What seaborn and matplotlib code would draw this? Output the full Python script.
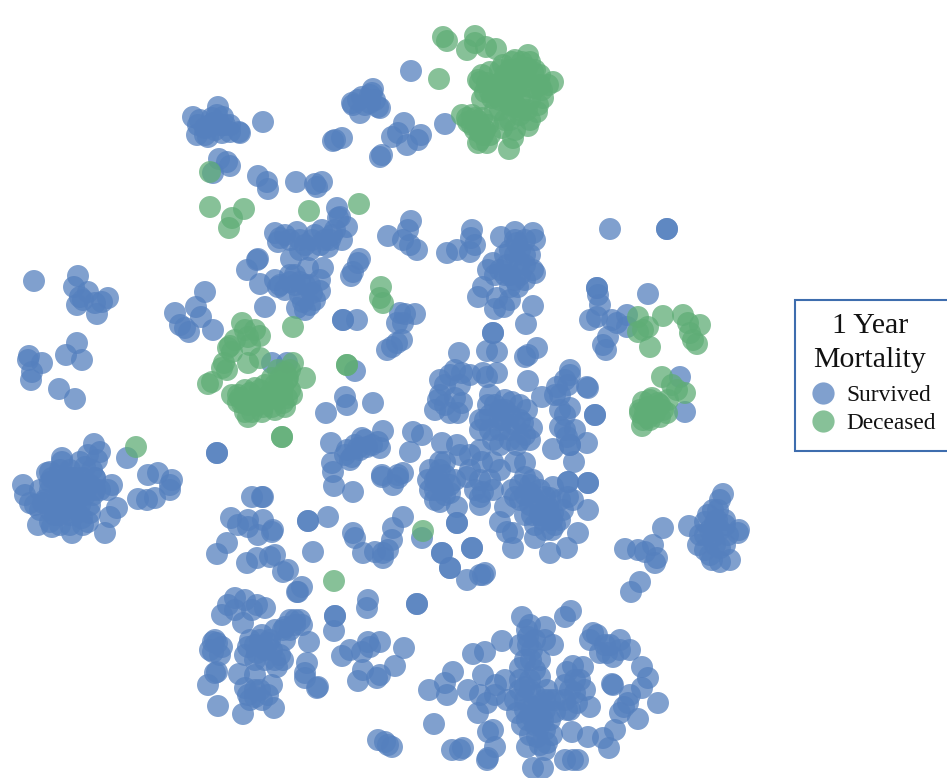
#t-SNE style scatter of patients, coloured by 1 year mortality
import seaborn as sns
import matplotlib.pyplot as plt
import pandas as pd
from matplotlib.lines import Line2D
from matplotlib.patches import Rectangle

BLUE = "#5580BE"
GREEN = "#5FAD76"

survived_points = [
    (193,117),(218,107),(198,125),(223,117),(197,135),(208,137),(222,133),(239,132),(213,123),(230,132),(263,122),(217,115),(205,128),(240,133),
    (210,125),(215,130),(205,135),(225,125),(200,120),(212,118),(220,125),(230,125),
    (352,103),(373,89),(362,97),(360,113),(378,107),(370,103),(372,93),(380,108),(353,105),(365,105),(370,95),(358,100),(375,100),
    (335,140),(342,138),(333,141),(411,71),(404,123),(392,137),(398,133),(421,135),(418,140),(407,145),(380,157),(382,155),(445,124),
    (219,159),(227,162),(230,166),(213,173),(258,176),(267,182),(268,189),(296,182),(315,184),(322,182),(317,187),
    (34,281),(78,276),(74,287),(88,292),(77,305),(97,314),(108,298),(102,302),(83,300),(95,303),(80,297),
    (205,292),(196,307),(175,313),(180,325),(189,332),(201,317),(213,330),(185,328),
    (77,343),(66,355),(82,360),(29,356),(42,363),(32,372),(31,380),(28,360),(59,389),(75,399),
    (217,453),(217,453),(127,458),(272,363),(287,363),(355,371),(343,320),(343,320),(357,320),(388,236),
    (275,233),(285,235),(278,242),(297,232),(312,240),(322,230),(332,235),(338,218),(340,217),(342,240),(328,247),(300,250),(291,259),
    (258,259),(257,260),(247,270),(260,284),(275,280),(278,287),(290,282),(308,268),(323,268),(300,282),(320,291),(312,293),(297,308),(310,305),(303,302),(265,307),
    (280,238),(290,240),(305,245),(315,235),(325,240),(335,230),(330,240),(320,245),(300,240),(310,250),(280,285),(295,275),(305,285),(285,290),(300,295),(310,285),(320,280),(315,300),(305,310),(295,285),(290,275),
    (360,259),(351,276),(358,263),(353,272),(347,227),(337,208),(400,313),(397,323),(387,350),(397,343),(392,347),
    (345,397),(347,405),(326,413),(373,403),(331,443),(332,463),(383,431),(362,438),(358,448),(352,457),(367,447),(378,442),(380,448),(347,450),(382,475),(398,478),
    (345,455),(355,445),(365,440),(372,445),(350,460),(360,450),
    (23,485),(25,495),(30,503),(50,482),(67,478),(83,478),(72,490),(70,500),(57,503),(43,503),(50,522),(38,525),(52,527),(72,533),(83,525),(77,513),(90,513),(105,533),
    (110,517),(117,508),(108,490),(112,485),(93,495),(63,510),(138,499),(147,500),(155,498),(148,475),(158,473),(170,485),(172,480),(170,490),
    (94,444),(97,460),(62,458),(80,462),(47,473),(85,467),(52,478),(60,495),(75,505),(85,495),(60,480),(70,470),(95,478),
    (40,490),(50,490),(60,490),(70,485),(80,490),(90,485),(100,490),(60,500),(50,510),(40,510),(35,505),(60,515),(70,515),(80,505),(90,505),(70,525),(60,525),(55,515),
    (95,478),(85,485),(75,478),(68,495),(78,495),(45,500),(70,508),(82,518),(88,522),(92,470),(88,455),(100,452),(60,470),(72,478),(62,462),(95,490),(50,472),
    (252,497),(262,497),(263,497),(231,518),(248,527),(238,525),(263,520),(248,520),(272,532),(273,530),(258,535),(227,543),(217,554),(247,563),(257,558),(270,557),(275,555),
    (283,572),(288,570),(298,592),(302,587),(297,592),(308,521),(308,521),(328,517),(313,552),(334,486),(353,492),(333,472),
    (353,533),(355,538),(363,553),(375,552),(383,558),(388,550),(392,540),(393,528),(403,517),(383,553),(382,477),(393,485),(398,475),
    (235,598),(228,605),(222,615),(257,605),(265,608),(252,610),(243,623),(295,620),(302,625),(285,627),(283,630),(290,620),(300,620),(245,600),(235,610),
    (213,642),(222,647),(213,652),(217,643),(248,647),(268,643),(257,653),(280,655),(283,660),(277,667),(307,663),(305,673),(309,642),(217,672),(215,673),(208,685),
    (239,674),(255,675),(272,685),(317,688),(318,687),(305,678),(248,695),(262,700),(255,697),(274,708),(218,706),(243,714),
    (250,640),(260,640),(265,650),(272,650),(255,645),(245,655),(255,660),(265,660),(275,660),(262,635),(270,640),(285,640),(295,625),(290,630),(275,630),(255,690),(245,688),(260,690),(268,695),(250,700),(215,640),(220,655),(210,650),
    (368,600),(367,608),(335,616),(335,616),(334,631),(417,604),(417,604),(342,656),(350,650),(362,652),(368,642),(380,642),(370,647),(404,648),(395,666),(363,670),(358,681),(377,678),(380,675),
    (378,740),(385,742),(392,747),(388,745),
    (723,494),(720,500),(713,510),(689,526),(705,522),(717,520),(698,545),(700,535),(713,537),(739,530),(738,533),(728,535),(712,560),(720,562),(730,560),(720,548),(715,523),
    (710,530),(720,530),(705,535),(715,545),(725,545),(708,515),(718,510),(725,520),(705,550),(725,525),(710,555),
    (663,528),(625,549),(638,550),(645,552),(653,545),(657,558),(655,563),(640,582),(631,592),
    (422,538),(457,523),(457,523),(442,553),(442,553),(472,548),(472,548),(450,568),(450,568),(467,580),(480,575),(485,573),(483,575),
    (571,611),(565,617),(522,617),(527,630),(545,627),(528,637),(553,645),(502,641),(473,654),(485,652),(532,650),(453,672),(445,683),(429,690),(447,695),(468,690),(483,675),(496,685),
    (520,668),(531,660),(540,677),(525,687),(547,690),(487,703),(478,713),(507,700),(525,710),(540,707),(555,712),(570,710),(567,672),(573,666),(583,667),(593,633),(597,635),(607,653),
    (620,640),(630,650),(613,657),(600,653),(612,684),(613,685),(642,667),(648,678),(642,688),(658,703),(624,707),(620,713),(638,719),(615,730),(603,738),(609,748),(588,737),(572,732),
    (575,693),(585,690),(590,707),(577,703),(567,710),(488,732),(493,730),(495,747),(487,760),(488,758),(434,724),(452,750),(463,748),(460,750),(522,725),(527,720),(537,737),(547,743),
    (552,735),(527,747),(545,750),(533,768),(543,768),(565,760),(578,760),(573,760),(533,707),(517,713),(543,720),
    (530,690),(535,695),(545,700),(525,700),(530,715),(540,715),(550,700),(545,710),(520,690),(515,700),(535,725),(545,730),(530,735),(540,725),(555,700),(565,700),(575,680),(570,690),
    (580,680),(565,685),(520,680),(530,680),(540,660),(535,670),(525,660),(520,645),(535,640),(545,640),(530,625),(528,645),(590,640),(610,645),(605,645),(620,650),(540,745),(550,720),
    (505,680),(495,695),(480,695),(630,695),(628,703),
    (411,221),(408,230),(403,240),(410,245),(417,250),(447,253),(457,250),(472,230),(471,238),(475,245),(470,252),(501,237),(515,232),(533,233),(535,240),(517,243),(493,263),(507,265),(520,263),(533,270),(535,273),
    (510,250),(520,250),(525,255),(515,255),(505,255),(510,275),(520,275),(525,280),(505,275),(500,270),(515,240),(525,240),(525,265),(515,280),(495,275),(488,270),(530,255),(510,300),(497,298),
    (510,287),(518,287),(483,287),(478,297),(495,309),(504,307),(533,306),(526,324),(405,314),(415,314),(403,323),(402,340),(493,333),(493,333),(459,353),(487,351),(497,352),(525,357),(528,355),(537,348),
    (455,370),(462,373),(440,380),(483,373),(487,377),(497,373),(528,381),(542,397),(557,387),(570,370),(568,385),(587,387),(588,388),(570,408),(595,415),(595,415),(560,427),(570,445),(570,445),(567,437),(587,443),(553,449),(574,462),
    (588,483),(588,483),(568,482),(568,482),(553,487),(438,400),(455,398),(462,403),(450,413),(458,413),(488,405),(500,410),(512,402),(527,410),(480,430),(493,440),(517,445),(532,428),(523,423),(503,420),
    (457,445),(442,443),(410,452),(422,435),(413,432),(440,462),(437,477),(482,462),(493,462),(467,477),(525,463),(515,462),(533,480),(525,477),(442,487),(450,493),(403,473),(493,490),(512,490),(483,492),(530,493),(550,498),(568,497),
    (443,490),(440,502),(457,507),(480,497),(480,505),(505,507),(500,522),(507,532),(513,533),(513,548),(535,538),(552,530),(552,520),(550,553),(567,548),(578,533),(588,510),(573,500),(532,515),(548,507),(553,513),(533,497),(563,510),(543,520),
    (490,415),(500,420),(510,415),(520,420),(485,420),(495,405),(505,410),(515,425),(525,435),(500,430),(490,430),(510,430),(500,445),(480,420),(520,440),(530,440),(510,440),(520,405),(490,395),(505,400),
    (435,480),(445,475),(435,490),(450,485),(445,495),(440,470),(430,470),(445,462),(455,480),(440,485),(480,480),(475,490),(490,480),(500,470),(470,470),(460,455),(470,455),(480,450),
    (520,485),(530,485),(540,490),(520,500),(530,505),(540,505),(525,515),(535,525),(545,530),(555,525),(540,515),(550,515),(560,520),(525,495),(545,497),(560,500),(515,497),
    (560,395),(565,380),(570,375),(555,395),(565,415),(560,410),(575,430),(565,430),
    (440,395),(445,385),(435,410),(445,405),(460,385),(470,375),(450,375),(430,490),(428,480),(435,500),
    (597,288),(597,288),(598,295),(600,305),(590,320),(597,317),(612,320),(627,315),(617,323),(627,327),(608,337),(603,345),(606,350),(648,294),(610,229),(667,229),(667,229),(680,377),(685,412),
]

deceased_points = [
    (443,37),(447,41),(475,36),(467,50),(475,43),(486,47),(496,49),(439,79),(528,55),(515,60),(503,65),(535,70),(553,82),(542,90),(482,75),(478,80),(487,83),(482,99),(492,98),(508,83),(517,77),(527,68),
    (500,90),(513,93),(530,87),(543,98),(537,112),(527,110),(528,126),(517,107),(505,120),(502,128),(513,138),(509,149),(462,115),(467,118),(478,121),(480,132),(478,143),(487,143),(500,83),(520,87),(533,72),(513,100),(493,87),
    (480,82),(490,72),(500,70),(510,70),(520,68),(530,62),(540,75),(548,85),(490,92),(500,100),(510,88),(520,98),(530,100),(540,85),(525,78),(515,82),(505,75),(495,85),(485,92),(510,105),(500,110),(520,115),(530,120),(510,120),(515,130),
    (495,110),(505,95),(475,130),(472,125),(468,122),(483,135),(490,135),(478,128),(488,125),(535,88),(512,62),(522,62),(520,110),(538,105),
    (475,118),(482,118),(480,125),(472,115),(485,130),(480,140),
    (210,207),(244,209),(232,218),(229,228),(309,211),(359,204),(210,172),
    (136,447),(282,437),(282,437),(293,327),(242,323),(255,330),(260,336),(248,337),(235,340),(230,346),(228,348),(224,363),(227,370),(208,384),(212,382),(248,363),(260,358),(293,363),(305,378),(287,380),(278,370),
    (232,352),(222,368),(245,330),(250,345),
    (240,398),(248,417),(250,393),(260,390),(267,397),(272,407),(283,403),(287,398),(243,400),(253,400),(263,407),(277,397),(283,387),(242,403),
    (238,395),(245,390),(255,388),(265,385),(272,392),(280,385),(288,378),(280,378),(275,385),(290,390),(292,395),(285,407),(268,400),(258,405),(248,405),(238,402),(252,412),(262,412),(275,410),(245,412),(285,372),(272,378),(232,395),(290,370),(282,395),(270,395),
    (347,365),(347,365),(381,287),(380,298),(383,303),(334,581),(423,531),
    (638,317),(648,327),(638,332),(643,330),(650,347),(663,316),(683,315),(688,323),(700,325),(690,333),(693,340),(697,344),
    (662,377),(672,385),(685,393),(677,390),(642,426),(643,402),(652,398),(663,410),(667,413),(655,413),(645,413),(648,407),(658,403),(660,417),(643,420),
    (650,420),(640,413),(660,405),(668,400),(650,400),(640,410),(655,408),(648,418),
]

legend_title = "1 Year\nMortality"
group_names = ["Survived", "Deceased"]

df = pd.DataFrame(survived_points + deceased_points, columns=["x", "y"])
df["group"] = [group_names[0]] * len(survived_points) + [group_names[1]] * len(deceased_points)

sns.set_style("white")
plt.rcParams["font.family"] = ["Liberation Serif", "DejaVu Serif"]

fig = plt.figure(figsize=(9.47, 7.78), dpi=100)
ax = fig.add_axes([0, 0, 1, 1])

sns.scatterplot(data=df, x="x", y="y", hue="group", palette={group_names[0]: BLUE, group_names[1]: GREEN},
                s=250, alpha=0.75, linewidth=0, legend=False, ax=ax)

ax.set_xlim(0, 947)
ax.set_ylim(778, 0)
ax.axis("off")

#legend box runs off the right edge of the picture
ax.add_patch(Rectangle((794.5, 299.5), 170, 151, facecolor="white", edgecolor="#3E6DAE", linewidth=1.5, zorder=3))
ax.text(870, 343, legend_title, ha="center", va="center", fontsize=21.5, linespacing=1.44, color="#111111", zorder=4)

handles = [Line2D([], [], linestyle="none", marker="o", markersize=16, markeredgewidth=0, color=c, alpha=0.75)
           for c in [BLUE, GREEN]]
leg = ax.legend(handles, group_names, loc="center left", bbox_to_anchor=(811.5, 409.5), bbox_transform=ax.transData,
                borderaxespad=0, borderpad=0, fontsize=16.8, labelspacing=0.26, handletextpad=0.5, handlelength=1,
                frameon=False, labelcolor="#111111")
leg.set_zorder(5)

fig.savefig("out.png", dpi=100)
